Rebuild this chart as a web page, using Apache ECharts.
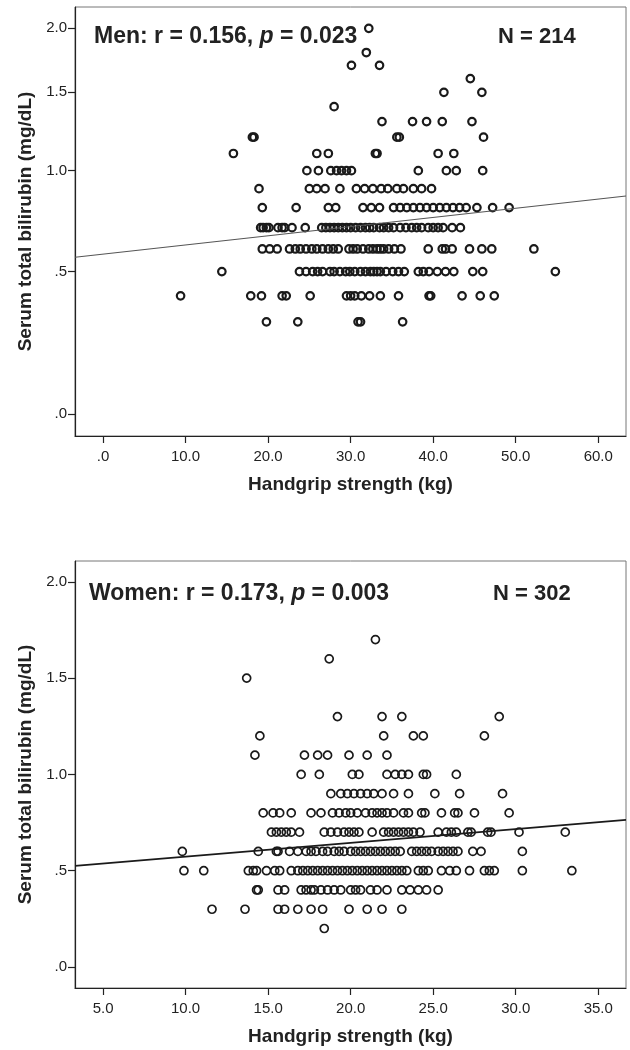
<!DOCTYPE html>
<html>
<head>
<meta charset="utf-8">
<title>Handgrip strength vs serum total bilirubin</title>
<script src="https://cdn.jsdelivr.net/npm/echarts@6/dist/echarts.min.js"></script>
<style>
  html, body { margin: 0; padding: 0; background: #fff; }
  #chart { width: 630px; height: 1050px; }
</style>
</head>
<body>
<div id="chart"></div>
<script>
// ---- data (bilirubin levels in mg/dL, handgrip strength in kg per level) ----
// men
var menLevels = [2.0, 1.8, 1.7, 1.6, 1.5, 1.4, 1.3, 1.2, 1.1, 1.0, 0.9, 0.8, 0.7, 0.6, 0.5, 0.4, 0.3];
var menGrip = [
  [32.2],
  [31.9],
  [30.1, 33.5],
  [44.5],
  [41.3, 45.9],
  [28.0],
  [33.8, 37.5, 39.2, 41.1, 44.7],
  [18.1, 18.3, 35.6, 35.9, 46.1],
  [15.8, 25.9, 27.3, 33.0, 33.2, 40.6, 42.5],
  [24.7, 26.1, 27.6, 28.3, 28.9, 29.5, 30.1, 38.2, 41.6, 42.8, 46.0],
  [18.9, 25.0, 25.9, 26.9, 28.7, 30.7, 31.7, 32.7, 33.7, 34.5, 35.6, 36.4, 37.6, 38.6, 39.8],
  [19.3, 23.4, 27.3, 28.2, 31.5, 32.5, 33.5, 35.2, 36.0, 36.8, 37.6, 38.4, 39.2, 40.0, 40.8, 41.6, 42.4, 43.2, 44.0, 45.3, 47.2, 49.2],
  [19.1, 19.4, 19.8, 20.1, 21.2, 21.7, 22.0, 22.9, 24.5, 26.5, 27.0, 27.5, 28.0, 28.5, 29.0, 29.5, 30.0, 30.6, 31.2, 31.8, 32.3, 32.8, 33.5, 34.0, 34.6, 35.2, 36.0, 36.7, 37.4, 38.0, 38.6, 39.4, 40.0, 40.6, 41.2, 42.3, 43.3],
  [19.3, 20.2, 21.1, 22.6, 23.3, 23.9, 24.6, 25.3, 25.9, 26.6, 27.3, 27.9, 28.5, 29.8, 30.3, 30.8, 31.5, 32.2, 32.7, 33.2, 33.6, 34.0, 34.6, 35.3, 36.1, 39.4, 41.1, 41.5, 42.3, 44.4, 45.9, 47.1, 52.2],
  [14.4, 23.8, 24.6, 25.4, 26.0, 26.6, 27.5, 28.0, 28.7, 29.4, 29.9, 30.5, 31.2, 31.8, 32.4, 32.8, 33.2, 33.6, 34.3, 35.1, 35.8, 36.5, 38.2, 38.8, 39.5, 40.5, 41.5, 42.5, 44.8, 46.0, 54.8],
  [9.4, 17.9, 19.2, 21.7, 22.2, 25.1, 29.5, 30.0, 30.5, 31.3, 32.3, 33.6, 35.8, 39.5, 39.7, 43.5, 45.7, 47.4],
  [19.8, 23.6, 30.9, 31.2, 36.3]
];
var menFitX = [-3.39, 63.36];
var menFitY = [0.5625, 0.8607];

// women
var womenLevels = [1.7, 1.6, 1.5, 1.3, 1.2, 1.1, 1.0, 0.9, 0.8, 0.7, 0.6, 0.5, 0.4, 0.3, 0.2];
var womenGrip = [
  [21.5],
  [18.7],
  [13.7],
  [19.2, 21.9, 23.1, 29.0],
  [14.5, 22.0, 23.8, 24.4, 28.1],
  [14.2, 17.2, 18.0, 18.6, 19.9, 21.0, 22.2],
  [17.0, 18.1, 20.1, 20.5, 22.2, 22.7, 23.1, 23.5, 24.4, 24.6, 26.4],
  [18.8, 19.4, 19.8, 20.2, 20.6, 21.0, 21.4, 21.9, 22.6, 23.5, 25.1, 26.6, 29.2],
  [14.7, 15.3, 15.7, 16.4, 17.6, 18.2, 18.9, 19.3, 19.7, 20.0, 20.4, 20.9, 21.3, 21.6, 21.9, 22.2, 22.6, 23.2, 23.5, 24.3, 24.5, 25.5, 26.3, 26.5, 27.5, 29.6],
  [15.2, 15.5, 15.8, 16.1, 16.4, 16.9, 18.4, 18.8, 19.2, 19.6, 19.9, 20.2, 20.5, 21.3, 22.0, 22.3, 22.6, 22.9, 23.2, 23.5, 23.8, 24.2, 25.3, 25.8, 26.1, 26.4, 27.1, 27.3, 28.3, 28.5, 30.2, 33.0],
  [9.8, 14.4, 15.5, 15.6, 16.3, 16.8, 17.3, 17.6, 17.9, 18.3, 18.6, 19.0, 19.3, 19.6, 20.0, 20.3, 20.6, 20.9, 21.2, 21.5, 21.8, 22.1, 22.4, 22.7, 23.0, 23.7, 24.0, 24.3, 24.6, 24.9, 25.3, 25.6, 25.9, 26.2, 26.5, 27.4, 27.9, 30.4],
  [9.9, 11.1, 13.8, 14.1, 14.3, 14.9, 15.4, 15.7, 16.4, 16.8, 17.1, 17.4, 17.7, 18.0, 18.3, 18.6, 18.9, 19.2, 19.5, 19.8, 20.1, 20.4, 20.7, 21.0, 21.3, 21.6, 21.9, 22.2, 22.5, 22.8, 23.1, 23.4, 24.1, 24.4, 24.7, 25.5, 26.0, 26.4, 27.2, 28.1, 28.4, 28.7, 30.4, 33.4],
  [14.3, 14.4, 15.6, 16.0, 17.0, 17.3, 17.6, 17.8, 18.2, 18.6, 19.0, 19.4, 20.0, 20.3, 20.6, 21.2, 21.6, 22.2, 23.1, 23.6, 24.1, 24.6, 25.3],
  [11.6, 13.6, 15.6, 16.0, 16.8, 17.6, 18.3, 19.9, 21.0, 21.9, 23.1],
  [18.4]
];
var womenFitX = [3.30, 36.68];
var womenFitY = [0.525, 0.7636];

// tick labels
var menXTicks = [0, 10, 20, 30, 40, 50, 60];
var womenXTicks = [5, 10, 15, 20, 25, 30, 35];
var yTicks = [0, 0.5, 1.0, 1.5, 2.0];

// men's y axis is drawn on a ln(1 + v) scale, women's is linear
var logT = function (v) { return Math.log(1 + v); };
var logInv = function (t) { return Math.exp(t) - 1; };
var ident = function (v) { return v; };

var FONT = '"Liberation Sans", Arial, Helvetica, sans-serif';

// SPSS style labels: ".0", ".5", "1.0"
function fmt(n) {
  var s = (Math.round(n * 10) / 10).toFixed(1);
  return s.replace(/^-?0\./, '.');
}

function points(levels, grip, tf) {
  var out = [];
  levels.forEach(function (lv, i) {
    grip[i].forEach(function (g) {
      out.push([g, tf(lv)]);
    });
  });
  return out;
}

function xAxisCfg(idx, min, max, ticks) {
  return {
    type: 'value',
    gridIndex: idx,
    min: min,
    max: max,
    name: 'Handgrip strength (kg)',
    nameLocation: 'middle',
    nameGap: 39,
    nameTextStyle: { fontFamily: FONT, fontSize: 19, fontWeight: 'bold', color: '#222' },
    axisLine: { show: true, onZero: false, lineStyle: { color: '#222', width: 1.2 } },
    axisTick: { show: true, length: 7, customValues: ticks, lineStyle: { color: '#222', width: 1.2 } },
    axisLabel: { customValues: ticks, margin: 13, fontFamily: FONT, fontSize: 15, color: '#222', formatter: fmt },
    splitLine: { show: false }
  };
}

function yAxisCfg(idx, min, max, tf, inv) {
  var ticks = yTicks.map(tf);
  return {
    type: 'value',
    gridIndex: idx,
    min: tf(min),
    max: tf(max),
    name: 'Serum total bilirubin (mg/dL)',
    nameLocation: 'middle',
    nameGap: 39,
    nameTextStyle: { fontFamily: FONT, fontSize: 19, fontWeight: 'bold', color: '#222' },
    axisLine: { show: true, onZero: false, lineStyle: { color: '#222', width: 1.2 } },
    axisTick: { show: true, length: 7, customValues: ticks, lineStyle: { color: '#222', width: 1.2 } },
    axisLabel: { customValues: ticks, margin: 8, fontFamily: FONT, fontSize: 15, color: '#222',
      formatter: function (v) { return fmt(inv(v)); } },
    splitLine: { show: false }
  };
}

function annot(x, y, group, r, p, n) {
  return [
    {
      type: 'text', x: x, y: y,
      style: {
        text: '{b|' + group + ': r = ' + r + ', }{i|p}{b| = ' + p + '}',
        verticalAlign: 'middle',
        rich: {
          b: { fontFamily: FONT, fontSize: 23, fontWeight: 'bold', fill: '#222' },
          i: { fontFamily: FONT, fontSize: 23, fontWeight: 'bold', fontStyle: 'italic', fill: '#222' }
        }
      }
    },
    {
      type: 'text', x: n.x, y: y,
      style: { text: 'N = ' + n.v, verticalAlign: 'middle', font: 'bold 22px ' + FONT, fill: '#222' }
    }
  ];
}

var chart = echarts.init(document.getElementById('chart'), null, { renderer: 'canvas' });

var option = {
  animation: false,
  backgroundColor: '#fff',
  grid: [
    { left: 75, top: 7, width: 551, height: 429, show: true, borderColor: '#777', borderWidth: 1, backgroundColor: 'transparent', outerBoundsMode: 'none' },
    { left: 75, top: 561, width: 551, height: 427, show: true, borderColor: '#777', borderWidth: 1, backgroundColor: 'transparent', outerBoundsMode: 'none' }
  ],
  xAxis: [
    xAxisCfg(0, -3.39, 63.36, menXTicks),
    xAxisCfg(1, 3.30, 36.68, womenXTicks)
  ],
  yAxis: [
    yAxisCfg(0, -0.061, 2.188, logT, logInv),
    yAxisCfg(1, -0.109, 2.108, ident, ident)
  ],
  graphic: annot(94, 37, 'Men', '0.156', '0.023', { x: 498, v: 214 })
    .concat(annot(89, 594, 'Women', '0.173', '0.003', { x: 493, v: 302 })),
  series: [
    {
      type: 'scatter', xAxisIndex: 0, yAxisIndex: 0,
      data: points(menLevels, menGrip, logT),
      symbol: 'circle', symbolSize: 7.5,
      itemStyle: { color: 'rgba(0,0,0,0)', borderColor: '#1a1a1a', borderWidth: 2.2, opacity: 1 },
      silent: true
    },
    {
      type: 'line', xAxisIndex: 0, yAxisIndex: 0,
      data: [[menFitX[0], logT(menFitY[0])], [menFitX[1], logT(menFitY[1])]],
      symbol: 'none', silent: true,
      lineStyle: { color: '#555', width: 1.1 }
    },
    {
      type: 'scatter', xAxisIndex: 1, yAxisIndex: 1,
      data: points(womenLevels, womenGrip, ident),
      symbol: 'circle', symbolSize: 8,
      itemStyle: { color: 'rgba(0,0,0,0)', borderColor: '#1a1a1a', borderWidth: 1.7, opacity: 1 },
      silent: true
    },
    {
      type: 'line', xAxisIndex: 1, yAxisIndex: 1,
      data: [[womenFitX[0], womenFitY[0]], [womenFitX[1], womenFitY[1]]],
      symbol: 'none', silent: true,
      lineStyle: { color: '#1a1a1a', width: 1.8 }
    }
  ]
};

chart.setOption(option);
</script>
</body>
</html>
